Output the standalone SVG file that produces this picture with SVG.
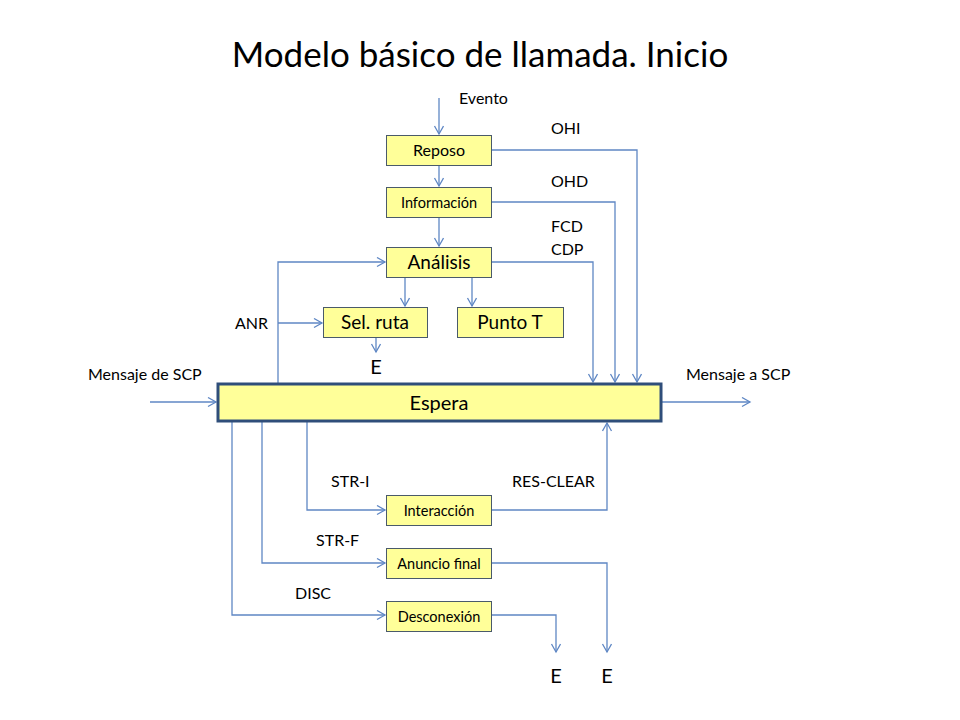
<svg xmlns="http://www.w3.org/2000/svg" width="960" height="720" viewBox="0 0 960 720">
<style>
text{font-family:Lato,"Liberation Sans",sans-serif;fill:#000}
.box{fill:#FFFF99;stroke:#4a5a6a;stroke-width:1}
.esp{fill:#FFFF99;stroke:#2F4E7A;stroke-width:3}
.c{fill:none;stroke:#5F87C4;stroke-width:1.3}
.lbl{font-size:16px}
.bt{text-anchor:middle}
.sm{font-size:14.5px}
.big{font-size:19px}
</style>
<defs>
<marker id="a" markerUnits="userSpaceOnUse" markerWidth="12" markerHeight="12" refX="9" refY="5" orient="auto">
<path d="M1,0.5 L9,5 L1,9.5" fill="none" stroke="#5F87C4" stroke-width="1.3"/>
</marker>
</defs>
<rect width="960" height="720" fill="#fff"/>
<text x="480" y="67" font-size="35" text-anchor="middle">Modelo básico de llamada. Inicio</text>

<g id="connectors">
<path class="c" d="M439,98 V134" marker-end="url(#a)"/>
<path class="c" d="M439,165 V186" marker-end="url(#a)"/>
<path class="c" d="M439,217 V246" marker-end="url(#a)"/>
<path class="c" d="M491,150 H637 V382" marker-end="url(#a)"/>
<path class="c" d="M491,202 H615 V382" marker-end="url(#a)"/>
<path class="c" d="M491,262 H593 V382" marker-end="url(#a)"/>
<path class="c" d="M405,277 V306" marker-end="url(#a)"/>
<path class="c" d="M472,277 V306" marker-end="url(#a)"/>
<path class="c" d="M278,383 V262 H385" marker-end="url(#a)"/>
<path class="c" d="M278,323 H322" marker-end="url(#a)"/>
<path class="c" d="M376,337 V352" marker-end="url(#a)"/>
<path class="c" d="M150,402 H216" marker-end="url(#a)"/>
<path class="c" d="M662,402 H750" marker-end="url(#a)"/>
<path class="c" d="M307,422 V510 H385" marker-end="url(#a)"/>
<path class="c" d="M262,422 V563 H385" marker-end="url(#a)"/>
<path class="c" d="M232,422 V615 H385" marker-end="url(#a)"/>
<path class="c" d="M491,510 H607 V423" marker-end="url(#a)"/>
<path class="c" d="M491,563 H607 V652" marker-end="url(#a)"/>
<path class="c" d="M491,615 H556 V652" marker-end="url(#a)"/>
</g>

<g id="reposo"><rect class="box" x="386.5" y="135.5" width="105" height="30"/><text class="bt" x="439" y="156" font-size="16">Reposo</text></g>
<g id="informacion"><rect class="box" x="386.5" y="187.5" width="105" height="30"/><text class="bt sm" x="439" y="207.5">Información</text></g>
<g id="analisis"><rect class="box" x="386.5" y="247.5" width="105" height="30"/><text class="bt big" x="439" y="269">Análisis</text></g>
<g id="selruta"><rect class="box" x="323.5" y="307.5" width="104" height="30"/><text class="bt big" x="375" y="329">Sel. ruta</text></g>
<g id="puntot"><rect class="box" x="457.5" y="307.5" width="106" height="30"/><text class="bt big" x="510" y="329">Punto T</text></g>
<g id="espera"><rect class="esp" x="218" y="384" width="443" height="37"/><text class="bt" x="439" y="410" font-size="20">Espera</text></g>
<g id="interaccion"><rect class="box" x="386.5" y="495.5" width="105" height="30"/><text class="bt sm" x="439" y="515.5">Interacción</text></g>
<g id="anuncio"><rect class="box" x="386.5" y="548.5" width="105" height="30"/><text class="bt sm" x="439" y="568.5">Anuncio final</text></g>
<g id="desconexion"><rect class="box" x="386.5" y="601.5" width="105" height="30"/><text class="bt sm" x="439" y="621.5">Desconexión</text></g>

<g id="labels">
<text class="lbl" x="459" y="104">Evento</text>
<text class="lbl" x="551" y="134">OHI</text>
<text class="lbl" x="551" y="187">OHD</text>
<text class="lbl" x="551" y="232">FCD</text>
<text class="lbl" x="551" y="255">CDP</text>
<text class="lbl" x="235" y="329">ANR</text>
<text class="lbl" x="88" y="380">Mensaje de SCP</text>
<text class="lbl" x="686" y="380">Mensaje a SCP</text>
<text class="lbl" x="331" y="487">STR-I</text>
<text class="lbl" x="512" y="487">RES-CLEAR</text>
<text class="lbl" x="316" y="546">STR-F</text>
<text class="lbl" x="295" y="599">DISC</text>
<text x="376" y="374" font-size="20" text-anchor="middle">E</text>
<text x="556" y="683" font-size="20" text-anchor="middle">E</text>
<text x="607" y="683" font-size="20" text-anchor="middle">E</text>
</g>
</svg>
